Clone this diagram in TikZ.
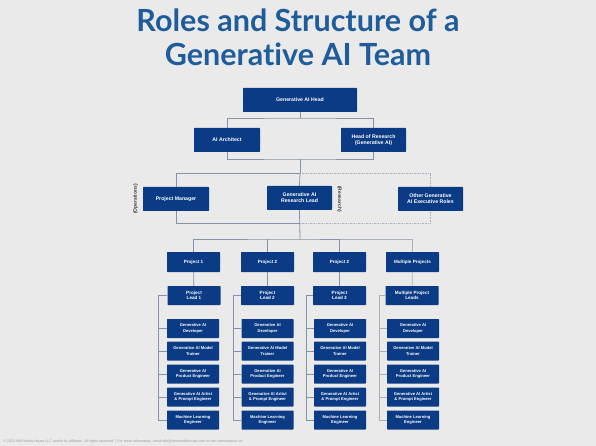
\documentclass[tikz,border=0pt]{standalone}
\usepackage{fontspec}
\setmainfont{Liberation Sans}
\newfontfamily\titlefont[Ligatures={NoCommon,NoContextual}]{Lato}
\definecolor{bg}{HTML}{EBEAEB}
\definecolor{navy}{HTML}{0B3B84}
\definecolor{titleblue}{HTML}{1F5C9A}
\definecolor{linec}{HTML}{8593A8}
\definecolor{lightc}{HTML}{A9B1BE}
\definecolor{footc}{HTML}{9A9A9A}
\begin{document}
\begin{tikzpicture}[x=1pt,y=-1pt,
  box/.style={fill=navy,text=white,inner sep=0pt,align=center,rounded corners=0.6pt,font=\bfseries\fontsize{5.2}{6.2}\selectfont},
  bigbox/.style={box,minimum height=24pt},
  projbox/.style={box,minimum width=53pt,minimum height=20pt,font=\bfseries\fontsize{4.6}{5.6}\selectfont},
  leadbox/.style={box,minimum width=53pt,minimum height=19pt,font=\bfseries\fontsize{4.6}{5.6}\selectfont},
  rolebox/.style={box,minimum width=52pt,minimum height=19pt,font=\bfseries\fontsize{4.1}{5.2}\selectfont},
  conn/.style={draw=linec,line width=0.8pt},
  dotc/.style={draw=lightc,line width=0.8pt,dash pattern=on 1pt off 0.6pt},
  lconn/.style={draw=lightc,line width=0.7pt},
  side/.style={text=black!75,font=\bfseries\fontsize{5}{6}\selectfont}]
\fill[bg] (0,0) rectangle (596,446);
\useasboundingbox (0,0) rectangle (596,446);
% title
\node[text=titleblue,font=\titlefont\bfseries\fontsize{30.5}{34}\selectfont,align=center] (title) at (298,37) {Roles and Structure of a\\Generative AI Team};
% top rows
\node[bigbox,minimum width=114pt] (head) at (300,100) {Generative AI Head};
\node[bigbox,minimum width=66pt] (arch) at (227,140) {AI Architect};
\node[bigbox,minimum width=65pt] (hres) at (373.5,140) {Head of Research\\(Generative AI)};
\node[bigbox,minimum width=66pt] (pm) at (176,199) {Project Manager};
\node[bigbox,minimum width=65pt] (rl) at (299.5,198) {Generative AI\\Research Lead};
\node[bigbox,minimum width=65pt] (oth) at (430.5,199) {Other Generative\\AI Executive Roles};
\node[side,rotate=90] (ops) at (135.5,199) {(Operations)};
\node[side,rotate=-90] (res) at (339.5,199) {(Research)};
% connectors top
\coordinate (j0) at (300,118);
\coordinate (j1) at (300,159);
\coordinate (j2) at (300,173);
\coordinate (j3) at (300,223);
\coordinate (j4) at (300,239);
\draw[conn] (head.south) -- (j0);
\draw[conn] (arch.north) |- (j0) -| (hres.north);
\draw[conn] (arch.south) |- (j1) -| (hres.south);
\draw[conn] (j1) -- (j2);
\draw[conn] (pm.north) |- (j2);
\draw[dotc] (j2) -| (oth.north);
\draw[conn] (j2) -- (rl.north);
\draw[conn] (pm.south) |- (j3);
\draw[dotc] (j3) -| (oth.south);
\draw[conn] (rl.south) -- (j4);
% project row
\node[projbox] (p1) at (193.5,262) {Project 1};
\node[projbox] (p2) at (267.5,262) {Project 2};
\node[projbox] (p3) at (339.5,262) {Project 2};
\node[projbox] (p4) at (412.5,262) {Multiple Projects};
\draw[conn] (p1.north) |- (j4) -| (p3.north);
\draw[conn] (p2.north) -- (p2.north |- j4);
\draw[lconn] (p3.north |- j4) -| (p4.north);
% leads
\node[leadbox] (l1) at (194,295.5) {Project\\Lead 1};
\node[leadbox] (l2) at (267.5,295.5) {Project\\Lead 2};
\node[leadbox] (l3) at (339.5,295.5) {Project\\Lead 3};
\node[leadbox] (l4) at (412,295.5) {Multiple Project\\Leads};
\draw[conn] (p1) -- (l1);
\draw[conn] (p2) -- (l2);
\draw[conn] (p3) -- (l3);
\draw[lconn] (p4) -- (l4);
% roles
\foreach \c/\x/\s/\st in {1/193/158/conn,2/267.5/233/conn,3/340/306/conn,4/413/379/lconn}{
  \node[rolebox] (r\c a) at (\x,328.5) {Generative AI\\Developer};
  \node[rolebox] (r\c b) at (\x,351) {Generative AI Model\\Trainer};
  \node[rolebox] (r\c c) at (\x,374) {Generative AI\\Product Engineer};
  \node[rolebox] (r\c d) at (\x,397) {Generative AI Artist\\\& Prompt Engineer};
  \node[rolebox] (r\c e) at (\x,420) {Machine Learning\\Engineer};
  \coordinate (s\c) at (\s,420);
  \draw[\st] (l\c.west) -| (s\c) -- (r\c e.west);
  \foreach \k in {a,b,c,d}{\draw[\st] (r\c\k.west) -- (r\c\k.west -| s\c);}
}
% footer
\node[anchor=west,text=footc,font=\fontsize{3.6}{4}\selectfont,inner sep=0pt] (foot) at (3,442) {© 2023 AIM Media House LLC and/or its affiliates. All rights reserved. | For more information, email info@aimmediahouse.com or visit aimresearch.co.};
\end{tikzpicture}
\end{document}
